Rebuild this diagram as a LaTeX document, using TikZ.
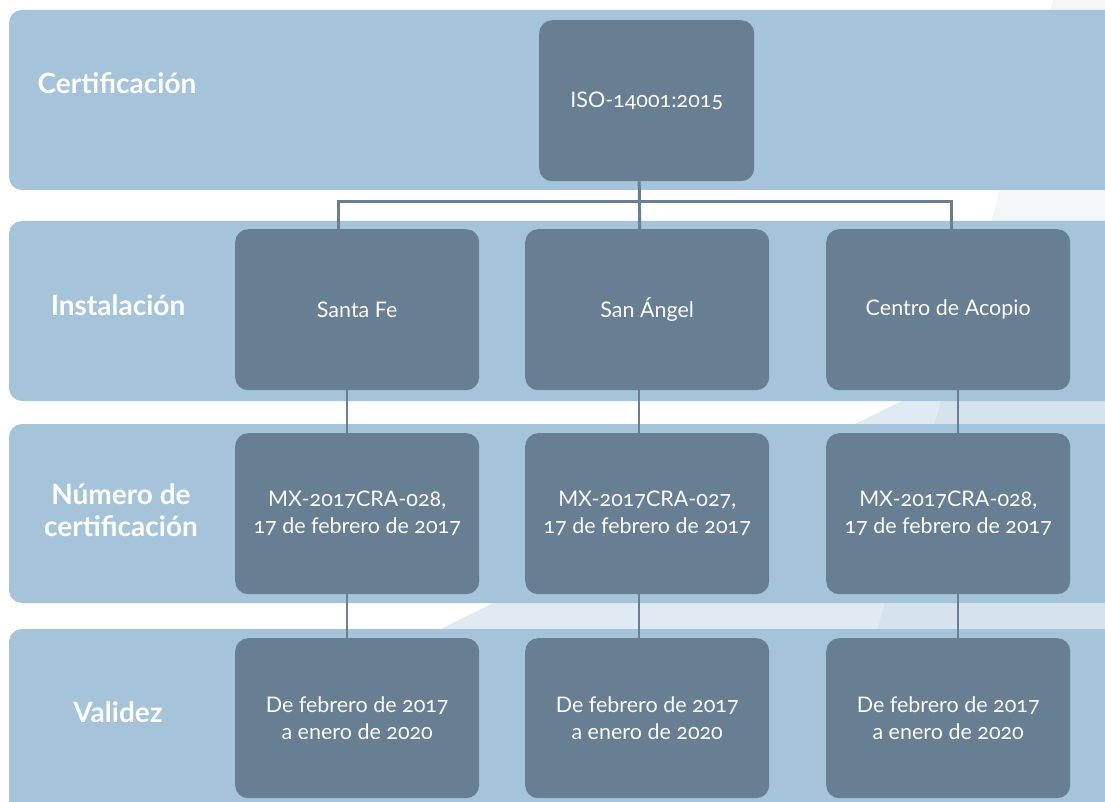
\documentclass[tikz,border=0pt]{standalone}
\usepackage{fontspec}
\setmainfont{Lato}[Numbers=OldStyle]
\usetikzlibrary{calc}
\definecolor{band}{HTML}{A5C4DA}
\definecolor{boxc}{HTML}{687E92}
\definecolor{grayshape}{HTML}{F3F5F7}
\begin{document}
\begin{tikzpicture}[x=1pt,y=-1pt,
  bandbox/.style={fill=band, rounded corners=13pt},
  cell/.style={fill=boxc, rounded corners=13pt, minimum width=244pt, minimum height=161pt,
    text=white, font=\fontsize{21.5}{27}\selectfont, align=center, inner sep=0pt, anchor=north west},
  lbl/.style={text=white, font=\fontsize{28}{32}\selectfont\bfseries, align=center},
  conn/.style={draw=boxc, line width=3pt},
  connb/.style={draw=boxc, line width=2.5pt}]
\useasboundingbox (0,0) rectangle (1105,802);
\clip (0,0) rectangle (1105,802);
\fill[white] (0,0) rectangle (1105,802);
% background shapes
\fill[grayshape] (1053,0) -- (1110,0) -- (1110,810) -- (827,810) -- cycle;
\fill[band, opacity=0.35] (1110,298) -- (1110,810) -- (75,810) -- cycle;
% bands
\fill[bandbox] (9,10) rectangle (1140,190);
\fill[bandbox] (9,221) rectangle (1140,401);
\fill[bandbox] (9,424) rectangle (1140,603);
\fill[bandbox] (9,629) rectangle (1140,840);
% labels
\node[lbl] (l1) at (117,83) {Certificación};
\node[lbl] (l2) at (118,305) {Instalación};
\node[lbl] (l3) at (121,510) {Número de\\certificación};
\node[lbl] (l4) at (118,712) {Validez};
% boxes
\node[cell, minimum width=215pt] (iso) at (539,20) {ISO-14001:2015};
\node[cell] (sf) at (235,229) {Santa Fe};
\node[cell] (sa) at (525,229) {San Ángel};
\node[cell] (ca) at (826,229) {Centro de Acopio};
\node[cell] (n1) at (235,433) {MX-2017CRA-028,\\17 de febrero de 2017};
\node[cell] (n2) at (525,433) {MX-2017CRA-027,\\17 de febrero de 2017};
\node[cell] (n3) at (826,433) {MX-2017CRA-028,\\17 de febrero de 2017};
\node[cell, minimum height=160pt] (v1) at (235,638) {De febrero de 2017\\a enero de 2020};
\node[cell, minimum height=160pt] (v2) at (525,638) {De febrero de 2017\\a enero de 2020};
\node[cell, minimum height=160pt] (v3) at (826,638) {De febrero de 2017\\a enero de 2020};
% connectors
\coordinate (bus) at (646,202);
\draw[conn] ([xshift=-7.5pt]iso.south) -- ([xshift=-7.5pt]sa.north);
\draw[conn] ([xshift=-19pt]sf.north) |- (bus) -| ([xshift=3pt]ca.north);
\draw[connb] ([xshift=-10pt]sf.south) -- ([xshift=-10pt]n1.north);
\draw[connb] ([xshift=-8pt]sa.south) -- ([xshift=-8pt]n2.north);
\draw[connb] ([xshift=10pt]ca.south) -- ([xshift=10pt]n3.north);
\draw[connb] ([xshift=-10pt]n1.south) -- ([xshift=-10pt]v1.north);
\draw[connb] ([xshift=-8pt]n2.south) -- ([xshift=-8pt]v2.north);
\draw[connb] ([xshift=10pt]n3.south) -- ([xshift=10pt]v3.north);
\end{tikzpicture}
\end{document}
